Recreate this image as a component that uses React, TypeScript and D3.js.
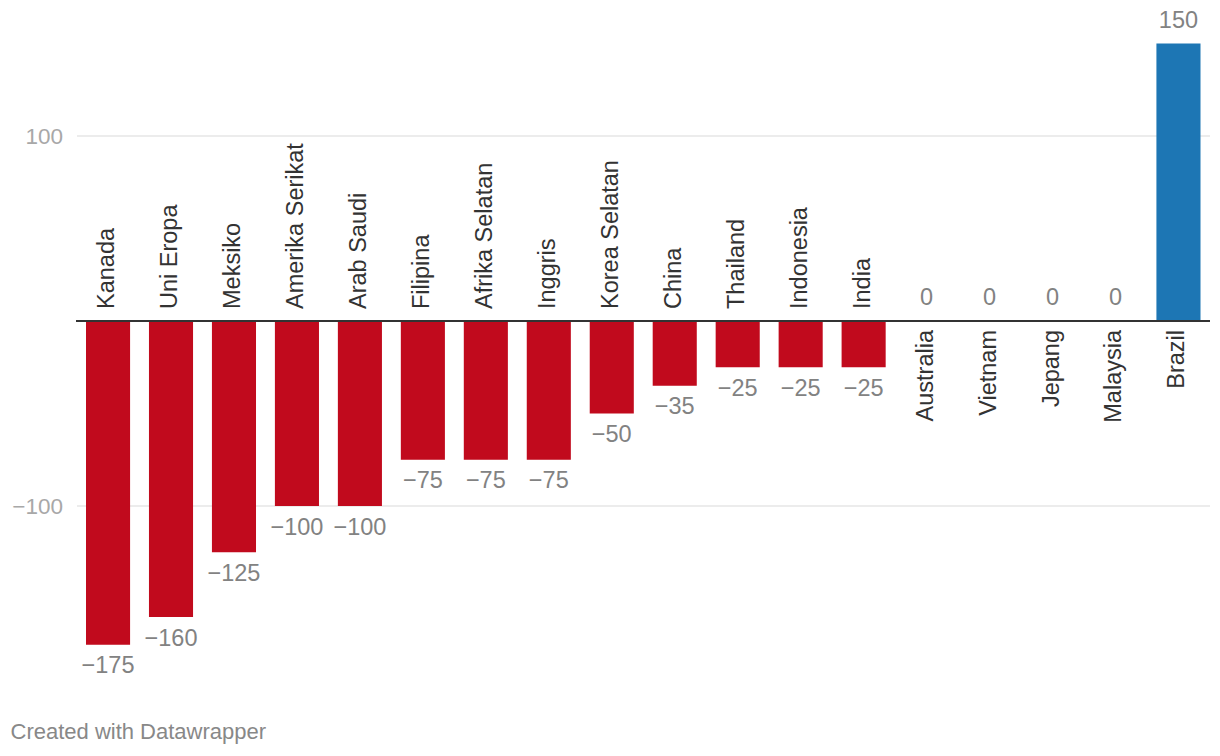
import React from "react";
import * as d3 from "d3";

const categories = [
  "Kanada", "Uni Eropa", "Meksiko", "Amerika Serikat", "Arab Saudi", "Filipina",
  "Afrika Selatan", "Inggris", "Korea Selatan", "China", "Thailand", "Indonesia",
  "India", "Australia", "Vietnam", "Jepang", "Malaysia", "Brazil",
];
const values = [-175, -160, -125, -100, -100, -75, -75, -75, -50, -35, -25, -25, -25, 0, 0, 0, 0, 150];
const yTicks = [-100, 100];

const W = 1220;
const H = 756;
const FONT = "'Liberation Sans', Arial, Helvetica, sans-serif";
const RED = "#c10a1d";
const BLUE = "#1d76b4";

const fmt = (v: number) => (v < 0 ? "\u2212" + Math.abs(v) : String(v));

export default function App() {
  const x = d3.scaleBand<string>().domain(categories).range([86, 1200.5]).paddingInner(0.3).paddingOuter(0);
  const y = d3.scaleLinear().domain([-175, 150]).range([644.75, 43.5]);
  const y0 = y(0);
  const bw = x.bandwidth();

  return (
    <svg width={W} height={H} style={{ position: "absolute", left: 0, top: 0, background: "#fff" }} fontFamily={FONT}>
      {yTicks.map((t) => (
        <g key={t}>
          <line x1={77} x2={1210} y1={y(t)} y2={y(t)} stroke="#e6e6e6" strokeWidth={1.5} />
          <text x={63} y={y(t) + 8} textAnchor="end" fontSize={22.5} fill="#a8a8a8">
            {fmt(t)}
          </text>
        </g>
      ))}
      {categories.map((c, i) => {
        const v = values[i];
        const x0 = x(c)!;
        return (
          <rect
            key={"b" + c}
            x={x0}
            width={bw}
            y={Math.min(y(v), y0)}
            height={Math.abs(y(v) - y0)}
            fill={v > 0 ? BLUE : RED}
          />
        );
      })}
      <line x1={76} x2={1210} y1={y0} y2={y0} stroke="#333" strokeWidth={2} />
      {categories.map((c, i) => {
        const v = values[i];
        const cx = x(c)! + bw / 2;
        const neg = v < 0;
        const ly = neg ? y0 - 12 : y0 + 9;
        return (
          <g key={"l" + c}>
            <text
              transform={`translate(${cx + 6},${ly}) rotate(-90)`}
              textAnchor={neg ? "start" : "end"}
              fontSize={23.5}
              fill="#333"
            >
              {c}
            </text>
            <text
              x={cx}
              y={neg ? y(v) + 28.5 : y(v) - 16}
              textAnchor="middle"
              fontSize={23.5}
              fill="#828282"
            >
              {fmt(v)}
            </text>
          </g>
        );
      })}
      <text x={10.5} y={738.5} fontSize={22} fill="#888">
        Created with Datawrapper
      </text>
    </svg>
  );
}
